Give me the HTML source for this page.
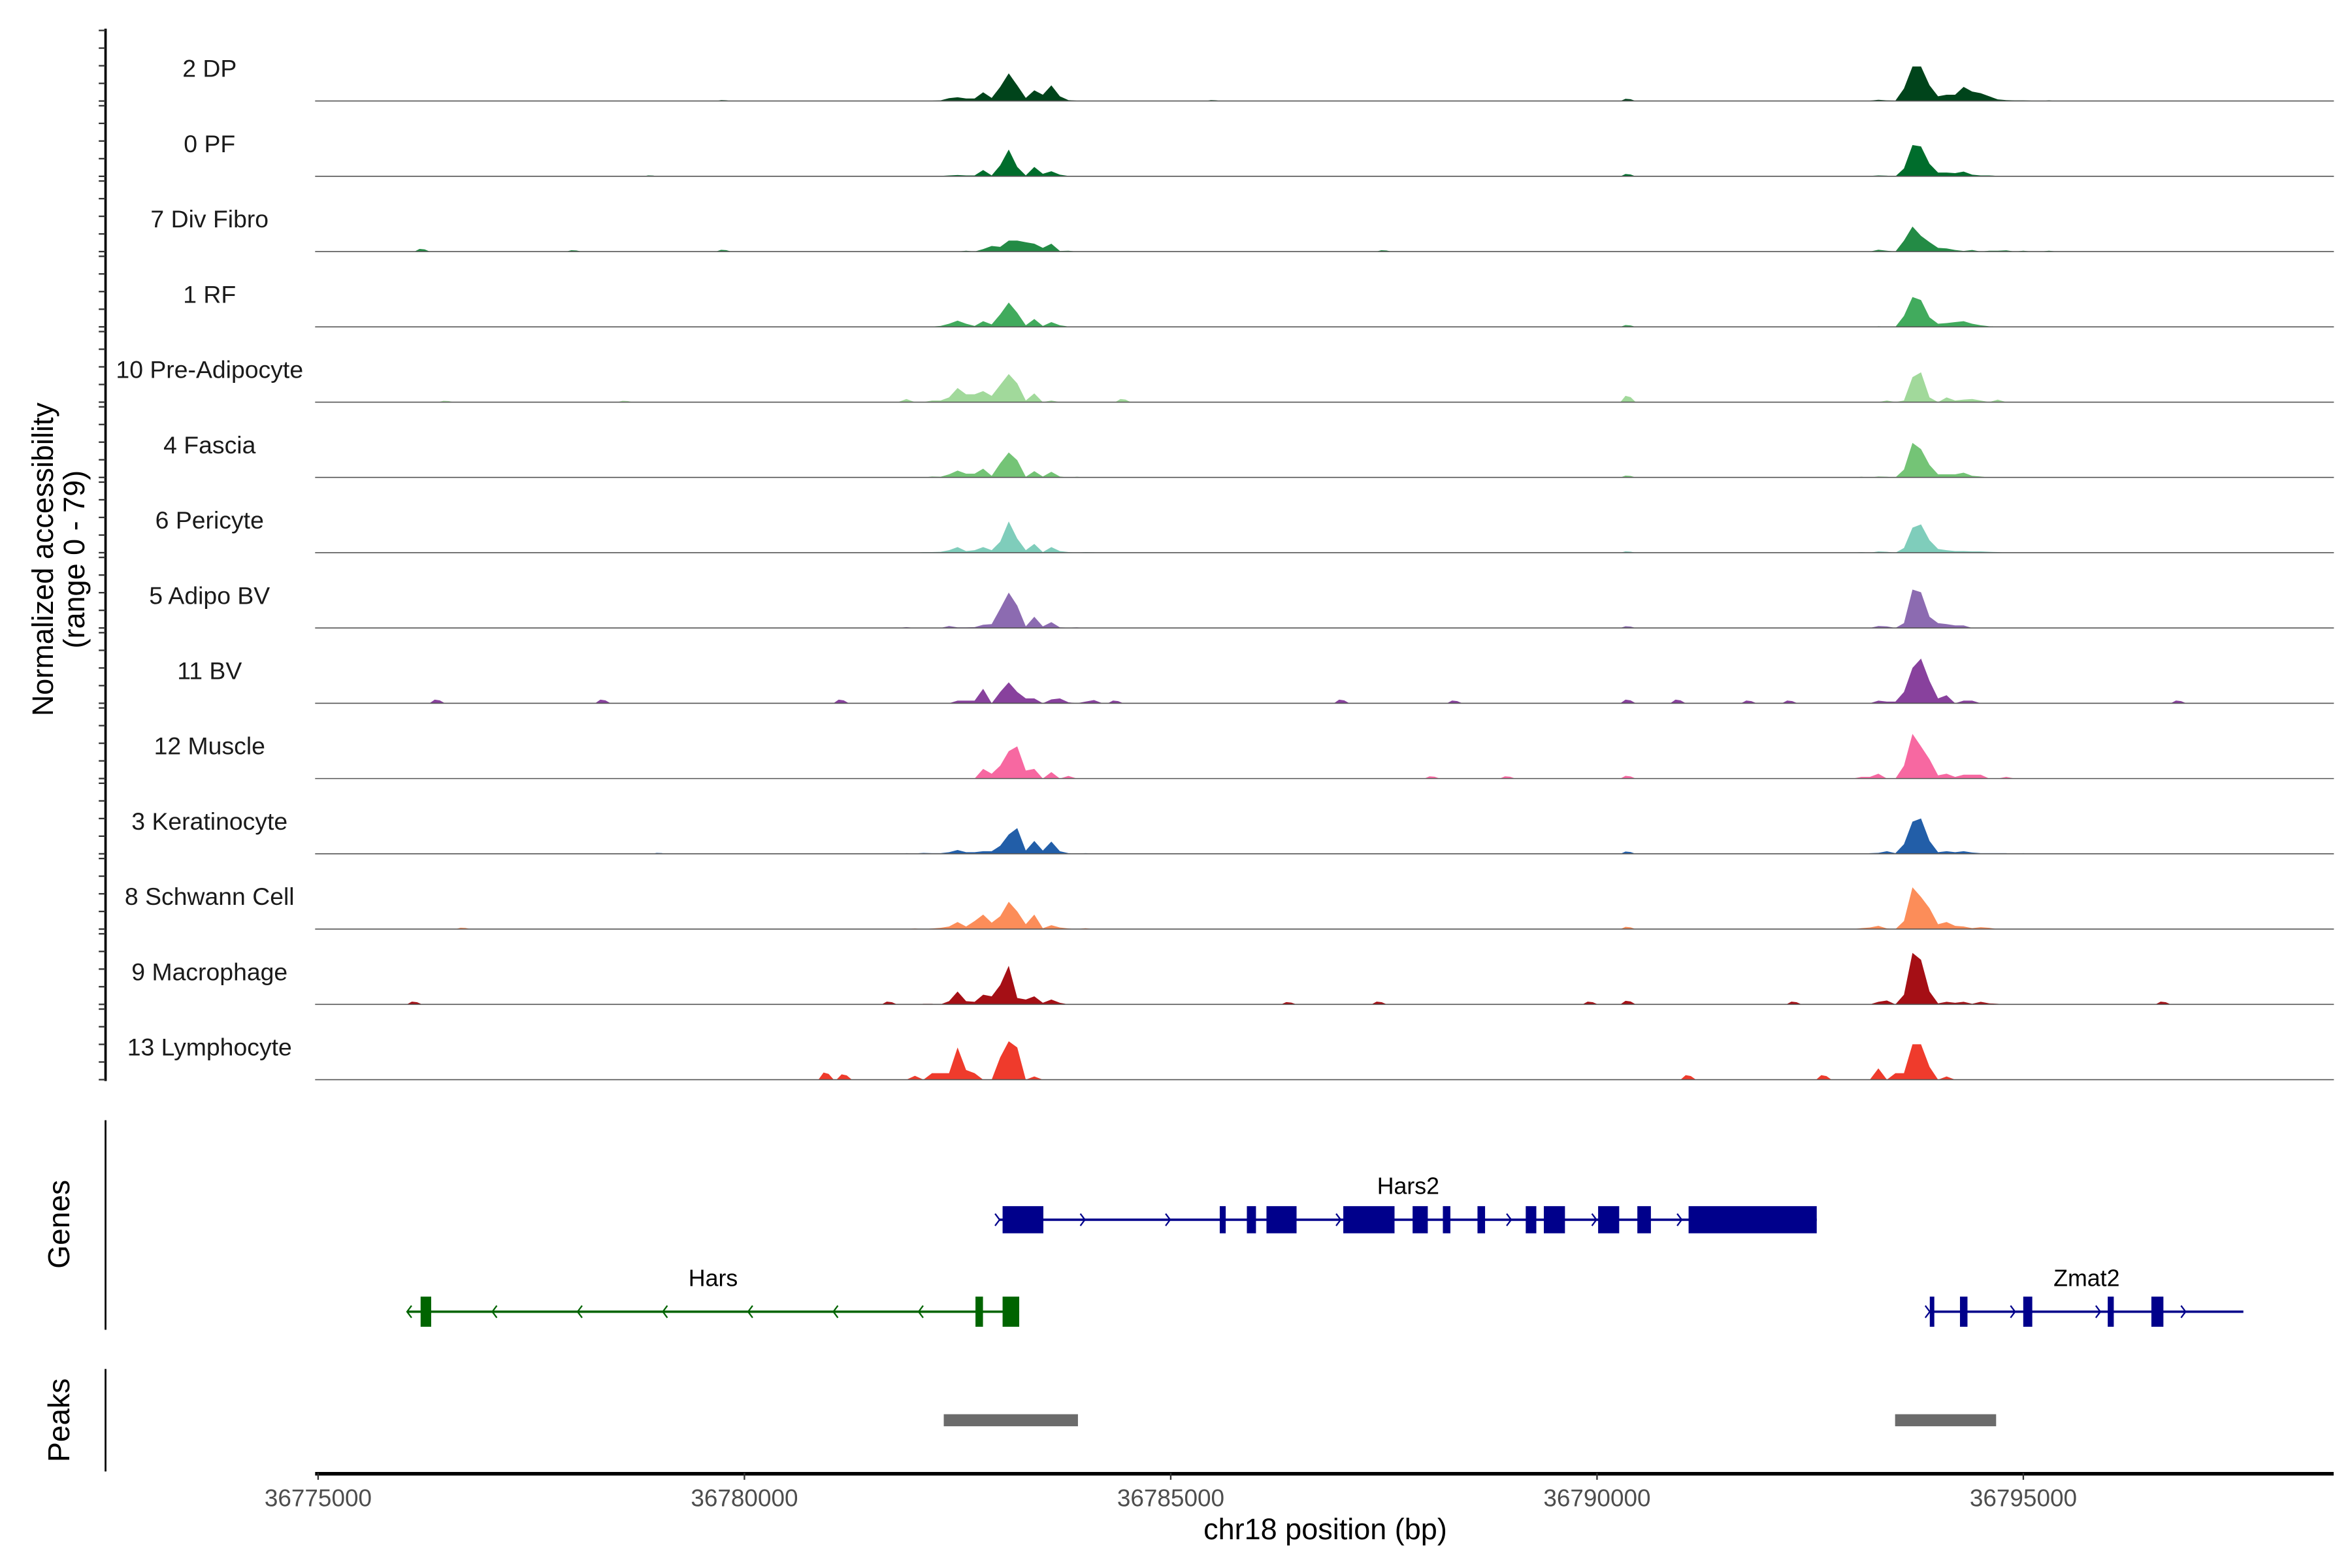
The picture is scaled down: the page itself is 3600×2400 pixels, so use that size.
<!DOCTYPE html>
<html><head><meta charset="utf-8"><style>
html,body{margin:0;padding:0;background:#fff;}
svg{display:block;font-family:"Liberation Sans",Arial,sans-serif;}
</style></head><body>
<svg id="chart" width="3600" height="2400" viewBox="0 0 1560 1040" preserveAspectRatio="none" xmlns="http://www.w3.org/2000/svg">
<rect width="1560" height="1040" fill="#fff"/>
<g id="tracks"></g>
<g id="yaxis"></g>
<g id="genes"></g>
<g id="peaks"></g>
<g id="xaxis"></g>
<text transform="translate(35,371) rotate(-90)" text-anchor="middle" font-size="19.5" fill="#000">Normalized accessibility</text>
<text transform="translate(56,371) rotate(-90)" text-anchor="middle" font-size="19.5" fill="#000">(range 0 - 79)</text>
<text transform="translate(46,812) rotate(-90)" text-anchor="middle" font-size="20" fill="#000">Genes</text>
<text transform="translate(46,942) rotate(-90)" text-anchor="middle" font-size="20" fill="#000">Peaks</text>
<text x="879" y="1021" text-anchor="middle" font-size="19.5" fill="#000">chr18 position (bp)</text>
</svg>
<script>
const NS="http://www.w3.org/2000/svg";
const trackNames=["2 DP","0 PF","7 Div Fibro","1 RF","10 Pre-Adipocyte","4 Fascia","6 Pericyte","5 Adipo BV","11 BV","12 Muscle","3 Keratinocyte","8 Schwann Cell","9 Macrophage","13 Lymphocyte"];
const trackColors=["#00441b","#006d2c","#238b45","#41ab5d","#a1d99b","#74c476","#7fcdbb","#8c6bb1","#88419d","#f768a1","#225ea8","#fc8d59","#a50f15","#ef3b2c"];
const region1Start=36781900, region2Start=36793100, binSize=100, binCount=23;
const region1Values=[
[0.4,0,0.4,0.4,0.7,3.2,4.2,2.8,2.8,9.8,3.5,15.8,31,17.5,3.5,12,7,17.5,5.3,1,0.4,0.4,0.4],
[0,0,0.4,0.4,0.4,1,1.4,1,1,7,1,12.3,30,10.5,1,10.5,2.8,5.6,1.8,0.4,0.4,0,0.4],
[0,0,0,0,0,0,0,1,0,2.8,6.3,5.3,12.3,12.3,10.5,8.8,4.2,8.8,0.7,1,0,0,0],
[0,0.4,0.4,0.4,1,3.5,7,3.5,1,6.3,2.8,14,27.3,15.8,1.8,8.8,1,5.3,1.8,0.4,0.4,0,0],
[3.5,0,0,1.8,1.8,5.3,15.8,8.8,8.8,12.3,7,19.3,31.5,21,1.8,9.8,0,1.8,0,0,0,0,0],
[0,0,0,1,0.7,3.5,7.7,4.2,4.2,9.8,1.8,15.8,28,19.3,0.7,7,1,6.3,1,0,0.7,0,0],
[0,0,0.7,0.7,1,2.8,6.3,1.8,2.8,6.3,2.8,12.3,35,15.8,2.8,9.8,0.7,6.3,1.8,0.7,0,0.7,0.4],
[1,0,0,0,0,2.2,0.7,0.7,1,3.6,4.3,21.6,39.6,25,1.8,12.6,1.8,6.5,0.7,0.4,0.7,0,0],
[0,0,0,0,0,0,2.9,2.9,2.9,16.2,0,12.6,23.4,12.6,5.4,5.4,0,4.3,5.4,1.1,0,1.8,3.6],
[0,0,0,0,0,0,0,0,0,10.8,5.4,14.4,30.6,36,9,10.8,0,7.2,0,2.9,0,0,0],
[0.7,0.4,1,0.7,0.7,1.8,4.3,1.8,1.8,2.9,2.9,9,21.6,28.8,3.6,14.4,3.6,13.7,2.9,0.7,0.4,0.7,0.4],
[0,0.7,0,0.7,1.4,2.9,7.9,2.9,9,16.2,7.2,14.4,30.6,19.8,5.4,16.2,1,4.3,1.8,0.7,0,1,0],
[0,0,0.7,0.7,0,3.6,14.4,3.6,2.9,10.8,9,21.6,43.2,7.2,5.4,9,1.8,5.4,1.8,0,0,0,0],
[0,4.3,0,7.2,7.2,7.2,36,10.8,7.2,0,0,25,43,36,0,3.6,0,0,0,0,0,0,0]];
const region2Values=[
[0,0.4,1.4,0.7,0.4,14,38.7,38.7,17.6,5.3,7,7,15.8,10.6,8.8,5.3,1.8,1,0.7,0.7,0.4,0,0.7],
[0.4,0.4,1,0.7,0,8.8,35,33.4,14,4.2,4.2,3.5,5.3,1.8,1,1,0.4,0.4,0,0,0,0,0],
[0,0,2.1,1,0,12.3,28,17.6,10.6,4.2,3.5,1.8,0.7,1.8,0,1,1,1.4,0,1,0,0,1],
[0,0,0.7,0.4,0,12.3,33.4,30,10.6,3.5,4.2,5.3,6.3,3.5,1.8,0.7,0.4,0.4,0,0,0,0,0],
[0,0,0,1.8,0,1.8,28,33.4,5.3,0,5.3,1.8,2.8,3.5,1.8,0,2.8,0,0,0,0,0,0],
[0.7,0,1,0.7,0,8.8,38.7,31.7,14,3.5,3.5,3.5,5.3,1.8,1,0,0,0,0,0,0,0,0],
[0.7,0,1.4,1,0,5.3,28,31.7,14,4.2,2.8,1.8,1.8,1.4,1.4,1,0.7,0,0,0,0,0,0],
[0,0,2.2,1.8,0,5.4,43,40,12.6,5.4,4.3,2.9,2.9,0,0,0,0,0,0,0,0,0,0],
[0,0,2.9,1.8,1.8,12.6,39.6,50,25,5.4,9,0,2.9,2.9,0,0,0,0,0,0,0,0,0],
[1.8,1.8,5.4,0,0,14.4,50,36,21.6,3.6,5.4,1.8,4.3,4.3,4.3,0,0,1.8,0,0,0,0,0],
[0,0.7,1.1,2.9,0.7,10.8,36,39.6,14.4,1.8,2.9,1.8,2.9,1.4,0.7,0.7,0.7,0.7,0,0.7,0,0,0],
[1.1,1.8,3.6,0.7,0,9,46.8,36,23.4,5.4,7.9,3.6,2.9,1.1,2.2,1.4,0,0,0,0,0,0,0],
[0,0,2.9,4.3,0,10.8,57.6,50,14.4,1.1,2.9,1.8,2.9,0.7,2.9,1.1,0.7,0,0,0,0,0,0],
[0,0,12.6,0,7.2,7.2,39.6,39.6,14.4,0,3.6,0,0,0,0,0,0,0,0,0,0,0,0]];
const blipBp=[
[36790364,36779756,36785500],
[36790364,36778900],
[36776220,36779756,36778000,36787500],
[36790364],
[36790364,36784440,36776500,36778600],
[36790364],
[36790364],
[36790364],
[36776397,36778340,36781135,36784353,36787005,36788330,36790364,36790950,36791780,36792260,36796820],
[36788065,36788950,36790364],
[36790364,36779000],
[36790364,36776700],
[36776130,36781700,36786385,36787445,36789920,36790364,36792310,36796640],
[36780958,36781170,36791070,36792660]];
const blipVal=[
[2.5,1,1],
[2.5,1],
[3,2,1.5,1.5],
[2],
[7,3.5,1.5,1.5],
[2],
[1.5],
[2],
[4,4,4,3,4,3,4,4,3,3,3],
[2.5,2.5,3],
[2.5,1],
[2.5,1.5],
[3,3,2.5,3,3,4,3,3],
[8,6,5,5]];
const xTicks=[36775000,36780000,36785000,36790000,36795000];
const geneNames=["Hars2","Hars","Zmat2"];
const geneStrand=[1,-1,1];
const geneStart=[36782993,36776043,36793903];
const geneEnd=[36792577,36783223,36797581];
const geneExonStarts=[[36783028,36785575,36785893,36786123,36787024,36787837,36788192,36788598,36789164,36789376,36790013,36790473,36791074],[36776202,36782710,36783028],[36793903,36794257,36794999,36795990,36796502]];
const geneExonEnds=[[36783506,36785645,36786000,36786476,36787625,36788015,36788280,36788687,36789288,36789624,36790260,36790632,36792577],[36776326,36782798,36783223],[36793956,36794345,36795105,36796061,36796643]];
const peakStarts=[36782338,36793496];
const peakEnds=[36783912,36794681];

const X0=211, PXBP=0.05655, XMIN=36774965, XMAX=36798640;
function xs(bp){return X0+(bp-36775000)*PXBP;}
const ROW0=67, ROWH=49.93, YMAX=79, SCALE=46.8/YMAX;
function ys(i,v){return ROW0+ROWH*i - Math.min(v,YMAX)*SCALE;}
function mk(tag,attrs,parent){const e=document.createElementNS(NS,tag);for(const k in attrs)e.setAttribute(k,attrs[k]);parent.appendChild(e);return e;}

const gT=document.getElementById('tracks');
trackNames.forEach((name,i)=>{
  const base=ROW0+ROWH*i;
  const g=mk('g',{},gT);
  
  
  let segs=[];
  [[region1Start,region1Values[i]],[region2Start,region2Values[i]]].forEach(([st,vals])=>{
    const pts=[[st-binSize,0]];
    vals.forEach((v,k)=>pts.push([st+k*binSize,v]));
    pts.push([st+binCount*binSize,0]);
    segs.push(pts);
  });
  blipBp[i].forEach((b,k)=>segs.push([[b-90,0],[b-30,blipVal[i][k]],[b+30,blipVal[i][k]*0.8],[b+90,0]]));
  segs.forEach(pts=>{
    let d='M'+xs(pts[0][0]).toFixed(2)+','+base;
    pts.forEach(p=>{d+='L'+xs(p[0]).toFixed(2)+','+ys(i,p[1]).toFixed(2);});
    d+='L'+xs(pts[pts.length-1][0]).toFixed(2)+','+base+'Z';
    const p=mk('path',{d:d,fill:trackColors[i]},g);
    
    
  });
  const bl=mk('line',{x1:209,x2:1548,y1:base,y2:base,stroke:'#555','stroke-width':0.7},g);
  
  
  const t=mk('text',{x:139,y:base-16,'text-anchor':'middle','font-size':'16.2',fill:'#1a1a1a'},g);
  t.textContent=name;
  
  
});

const gY=document.getElementById('yaxis');
mk('line',{x1:70,x2:70,y1:19,y2:717,stroke:'#000','stroke-width':1.6},gY);
for(let i=0;i<trackNames.length;i++){
  for(let k=0;k<5;k++){
    const y=ROW0+ROWH*i-k*11.7;
    const tk=mk('line',{x1:65.5,x2:70,y1:y,y2:y,stroke:'#333','stroke-width':1},gY);
    
    
  }
}

const gG=document.getElementById('genes');
mk('line',{x1:70,x2:70,y1:743,y2:882,stroke:'#000','stroke-width':1.2},gG);
const geneRowY=[809,870,870];
const geneColor=["#00008b","#006400","#00008b"];
geneNames.forEach((n,i)=>{
  const g=mk('g',{},gG);
  
  
  const y=geneRowY[i], c=geneColor[i];
  mk('line',{x1:xs(geneStart[i]),x2:xs(geneEnd[i]),y1:y,y2:y,stroke:c,'stroke-width':1.6},g);
  const s=geneStrand[i];
  for(let bp=geneStart[i]; bp<=geneEnd[i]+1; bp+=1000){
    const x=xs(bp);
    mk('polyline',{points:(x-3*s)+','+(y-4)+' '+x+','+y+' '+(x-3*s)+','+(y+4),fill:'none',stroke:c,'stroke-width':1},g);
  }
  const h=i===0?9:10;
  geneExonStarts[i].forEach((st,k)=>{
    const r=mk('rect',{x:xs(st),y:y-h,width:Math.max(2.5,xs(geneExonEnds[i][k])-xs(st)),height:2*h,fill:c},g);
    
    
  });
  const lx={0:934,1:473,2:1384}[i];
  const t=mk('text',{x:lx,y:y-17,'text-anchor':'middle','font-size':'15.5',fill:'#000'},g);
  t.textContent=n;
  
  
});

const gP=document.getElementById('peaks');
mk('line',{x1:70,x2:70,y1:908,y2:976,stroke:'#000','stroke-width':1.2},gP);
peakStarts.forEach((s,i)=>{
  const r=mk('rect',{x:xs(s),y:938,width:xs(peakEnds[i])-xs(s),height:8,fill:'#6b6b6b'},gP);
  
  
});

const gX=document.getElementById('xaxis');
mk('line',{x1:xs(XMIN),x2:xs(XMAX),y1:977.5,y2:977.5,stroke:'#000','stroke-width':2.4},gX);
xTicks.forEach(v=>{
  const x=xs(v);
  const tk=mk('line',{x1:x,x2:x,y1:977,y2:981.5,stroke:'#333','stroke-width':1},gX);
  
  
  const t=mk('text',{x:x,y:999,'text-anchor':'middle','font-size':'16',fill:'#4d4d4d'},gX);
  t.textContent=v;
  
  
});
</script>
</body></html>
